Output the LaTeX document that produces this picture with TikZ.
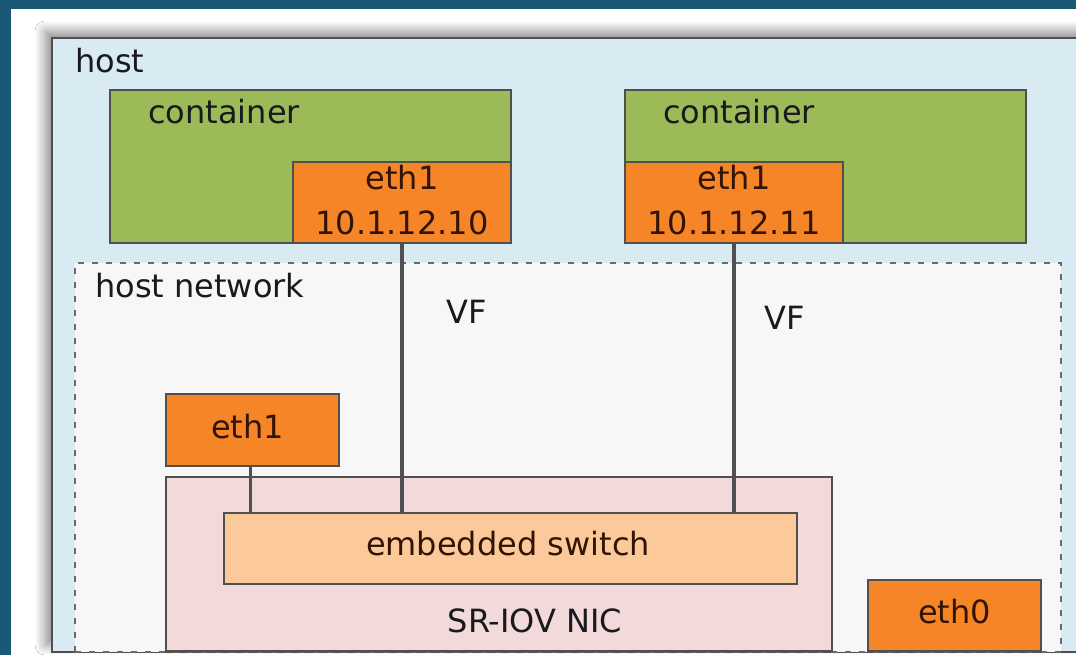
\documentclass[tikz,border=0pt]{standalone}
\usepackage{fontspec}
\setmainfont{DejaVu Sans}
\usetikzlibrary{shadows.blur}

\definecolor{bgblue}{RGB}{27,88,118}
\definecolor{hostfill}{RGB}{216,234,242}
\definecolor{netfill}{RGB}{247,247,247}
\definecolor{cgreen}{RGB}{155,187,89}
\definecolor{iforange}{RGB}{245,133,38}
\definecolor{nicpink}{RGB}{242,218,218}
\definecolor{swpeach}{RGB}{251,201,154}
\definecolor{edgegray}{RGB}{80,80,80}
\definecolor{ink}{RGB}{25,25,30}
\definecolor{ifink}{RGB}{50,20,5}

\begin{document}
\begin{tikzpicture}[x=1pt,y=-1pt,
  box/.style={draw=edgegray, line width=1.8pt, rectangle, inner sep=0pt,
              outer sep=0pt, anchor=north west},
  lbl/.style={font=\fontsize{32}{36}\selectfont, text=ink, inner sep=0pt, anchor=base},
  iflbl/.style={lbl, text=ifink},
  wire/.style={draw=edgegray, line width=3.6pt}]

\useasboundingbox (0,0) rectangle (1076,655);
\clip (0,0) rectangle (1076,655);

% page background and slide panel
\fill[bgblue] (0,0) rectangle (1076,655);
\fill[white] (11,9) rectangle (1076,655);

% host
\node[box, fill=hostfill, minimum width=1050pt, minimum height=614pt,
      blur shadow={shadow xshift=-7pt, shadow yshift=7pt, shadow blur radius=10pt,
                   shadow opacity=45, shadow blur steps=12}] (host) at (52,38) {};

% host network
\node[box, fill=netfill, draw=edgegray!85, line width=1.5pt,
      dash pattern=on 6pt off 8pt,
      minimum width=986pt, minimum height=389pt] (hostnet) at (75,263) {};

% containers
\node[box, fill=cgreen, minimum width=401pt, minimum height=153pt] (c1) at (110,90) {};
\node[box, fill=cgreen, minimum width=401pt, minimum height=153pt] (c2) at (625,90) {};

% container interfaces
\node[box, fill=iforange, minimum width=218pt, minimum height=81pt] (e1a) at (293,162) {};
\node[box, fill=iforange, minimum width=218pt, minimum height=81pt] (e1b) at (625,162) {};

% host interfaces
\node[box, fill=iforange, minimum width=173pt, minimum height=72pt] (he1) at (166,394) {};
\node[box, fill=iforange, minimum width=173pt, minimum height=71pt] (he0) at (868,580) {};

% NIC and embedded switch
\node[box, fill=nicpink, minimum width=666pt, minimum height=174pt] (nic) at (166,477) {};
\node[box, fill=swpeach, minimum width=573pt, minimum height=71pt] (sw) at (224,513) {};

% links
\draw[wire] (e1a.south) -- (e1a.south |- sw.north);
\draw[wire] (e1b.south) -- (e1b.south |- sw.north);
\draw[wire] ([xshift=-2pt]he1.south) -- ([xshift=-2pt]he1.south |- sw.north);

% labels
\node[lbl, anchor=base west] (thost) at (75,73) {host};
\node[lbl, anchor=base west] (tc1) at (148,124) {container};
\node[lbl, anchor=base west] (tc2) at (663,124) {container};
\node[iflbl] (te1a) at (e1a.center |- 0,190) {eth1};
\node[iflbl] (ta1a) at (e1a.center |- 0,235) {10.1.12.10};
\node[iflbl] (te1b) at (e1b.center |- 0,190) {eth1};
\node[iflbl] (ta1b) at (e1b.center |- 0,235) {10.1.12.11};
\node[lbl, anchor=base west] (tnet) at (95,297) {host network};
\node[lbl] (tvf1) at (467,323) {VF};
\node[lbl] (tvf2) at (785,329) {VF};
\node[iflbl] (the1) at ([xshift=-5pt]he1.center |- 0,438) {eth1};
\node[iflbl] (tsw) at (508,555) {embedded switch};
\node[lbl] (tnic) at (535,632) {SR-IOV NIC};
\node[iflbl] (the0) at (he0.center |- 0,623) {eth0};
\end{tikzpicture}
\end{document}
